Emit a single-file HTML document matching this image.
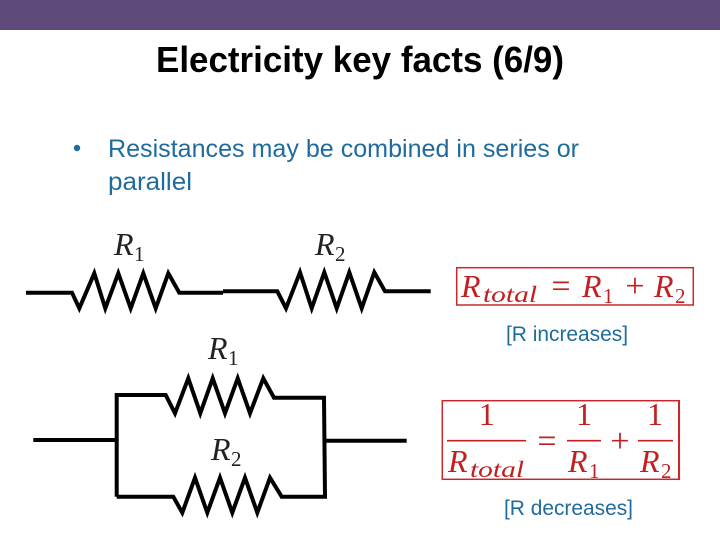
<!DOCTYPE html>
<html>
<head>
<meta charset="utf-8">
<style>
html,body{margin:0;padding:0;background:#fff;width:720px;height:540px;overflow:hidden}
svg{display:block}
.s{font-family:"Liberation Sans",sans-serif}
.m{font-family:"Liberation Serif",serif;font-style:italic}
.n{font-family:"Liberation Serif",serif}
</style>
</head>
<body>
<svg width="720" height="540" viewBox="0 0 720 540" xmlns="http://www.w3.org/2000/svg">
<rect x="0" y="0" width="720" height="30" fill="#5f4b7b"/>
<text class="s" x="156" y="72" font-size="36" font-weight="700" fill="#000" textLength="408" lengthAdjust="spacingAndGlyphs">Electricity key facts (6/9)</text>
<circle cx="77" cy="148" r="3.2" fill="#1f6b9e"/>
<text class="s" x="108" y="157" font-size="25" fill="#1f6b9e" textLength="471" lengthAdjust="spacingAndGlyphs">Resistances may be combined in series or</text>
<text class="s" x="108" y="190" font-size="25" fill="#1f6b9e" textLength="84" lengthAdjust="spacingAndGlyphs">parallel</text>

<g fill="none" stroke="#000" stroke-width="4" stroke-linejoin="miter">
<polyline points="26,292.7 72,292.7 79.3,308.3 94.3,273.3 105.3,308.3 118.3,273.3 130.7,308.3 143.3,273.3 155.7,308.3 168.3,273.3 179.3,292.7 223,292.7"/>
<polyline points="223,291.3 277.3,291.3 286,308.3 300,272.3 311.7,308.3 324.3,272.3 336.7,308.3 349.3,272.3 361.7,308.3 374.3,272.3 385,291.3 430.7,291.3"/>
<polyline points="116.7,496.7 116.7,395 165.7,395 175,413.3 188.3,378.3 200.3,413.3 212.7,378.3 225,413.3 237.7,378.3 250,413.3 263.3,378.3 274,397.7 324,397.7 325,496.7 281.7,496.7 270,477.7 257.3,512.7 245,477.7 232.3,512.7 220,477.7 207.3,512.7 195,477.7 182.3,512.7 173.3,496.7 116.7,496.7"/>
<line x1="33.3" y1="440" x2="116" y2="440"/>
<line x1="326" y1="440.7" x2="406.7" y2="440.7"/>
</g>

<g fill="#222">
<text class="m" x="114" y="255" font-size="32">R</text><text class="n" x="134" y="261" font-size="21">1</text>
<text class="m" x="315" y="255" font-size="32">R</text><text class="n" x="335" y="261" font-size="21">2</text>
<text class="m" x="208" y="359" font-size="32">R</text><text class="n" x="228" y="365" font-size="21">1</text>
<text class="m" x="211" y="460" font-size="32">R</text><text class="n" x="231" y="466" font-size="21">2</text>
</g>

<rect x="456.7" y="267.7" width="236.6" height="37.3" fill="none" stroke="#c8282c" stroke-width="1.5"/>
<g fill="#c0201f">
<text class="m" x="461" y="297" font-size="32">R</text>
<text class="m" x="483" y="302" font-size="23" textLength="54" lengthAdjust="spacingAndGlyphs">total</text>
<text class="n" x="561" y="297" font-size="34" text-anchor="middle">=</text>
<text class="m" x="582" y="297" font-size="32">R</text><text class="n" x="603" y="303" font-size="21">1</text>
<text class="n" x="635" y="297" font-size="34" text-anchor="middle">+</text>
<text class="m" x="654" y="297" font-size="32">R</text><text class="n" x="675" y="303" font-size="21">2</text>
</g>
<text class="s" x="506" y="341" font-size="21" fill="#1f6b9e" textLength="122" lengthAdjust="spacingAndGlyphs">[R increases]</text>

<rect x="442.3" y="400.7" width="237" height="78.6" fill="none" stroke="#c8282c" stroke-width="1.5"/>
<line x1="679" y1="400" x2="679" y2="480" stroke="#c8282c" stroke-width="2"/>
<g stroke="#c0201f" stroke-width="1.7">
<line x1="447" y1="440.7" x2="526" y2="440.7"/>
<line x1="567" y1="440.7" x2="601" y2="440.7"/>
<line x1="638" y1="440.7" x2="673" y2="440.7"/>
</g>
<g fill="#c0201f">
<text class="n" x="486.7" y="425" font-size="32" text-anchor="middle">1</text>
<text class="m" x="448" y="472" font-size="32">R</text>
<text class="m" x="470" y="477" font-size="23" textLength="54" lengthAdjust="spacingAndGlyphs">total</text>
<text class="n" x="547" y="452" font-size="34" text-anchor="middle">=</text>
<text class="n" x="584" y="425" font-size="32" text-anchor="middle">1</text>
<text class="m" x="568" y="472" font-size="32">R</text><text class="n" x="589" y="478" font-size="21">1</text>
<text class="n" x="620" y="452" font-size="34" text-anchor="middle">+</text>
<text class="n" x="655" y="425" font-size="32" text-anchor="middle">1</text>
<text class="m" x="640" y="472" font-size="32">R</text><text class="n" x="661" y="478" font-size="21">2</text>
</g>
<text class="s" x="504" y="515" font-size="21" fill="#1f6b9e" textLength="129" lengthAdjust="spacingAndGlyphs">[R decreases]</text>
</svg>
</body>
</html>
